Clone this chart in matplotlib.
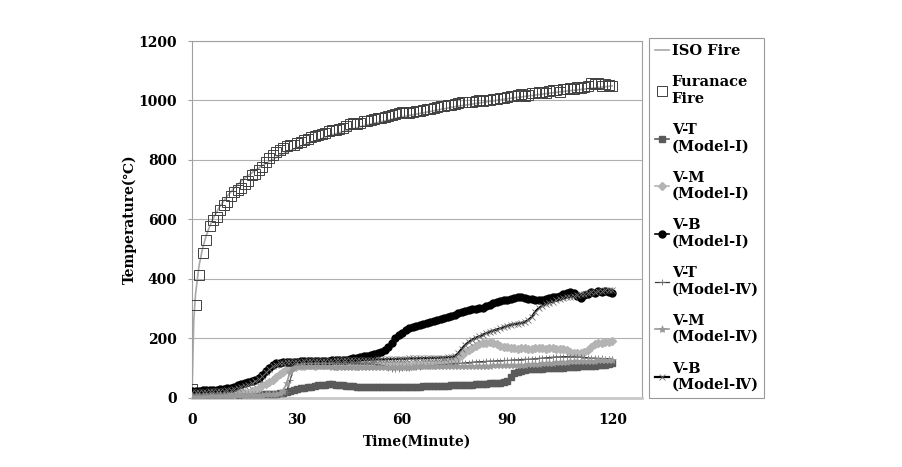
import matplotlib
matplotlib.use("Agg")
import matplotlib.pyplot as plt

plt.rcParams['font.family'] = ['DejaVu Serif', 'DejaVu Sans', 'Noto Sans CJK KR']
plt.rcParams['font.weight'] = 'bold'

# time in minutes, one reading per minute
minutes = list(range(121))

# standard fire curve, read at a few times
iso_time = [0, 0.5, 1, 2, 3, 4, 5, 6, 8, 10, 12, 15, 20, 25, 30, 40, 50, 60, 75, 90, 105, 120]
iso_temp = [20, 261, 349, 445, 502, 544, 576, 603, 645, 678, 705, 739, 781, 815, 842,
            885, 918, 945, 979, 1006, 1029, 1049]

furnace = [30, 313, 413, 487, 531, 578, 598, 608, 632, 648,
           660, 680, 692, 700, 706, 718, 728, 748, 752, 765,
           778, 792, 808, 818, 826, 834, 840, 846, 850, 852,
           856, 860, 866, 872, 876, 880, 884, 888, 892, 896,
           900, 902, 905, 908, 914, 920, 924, 922, 926, 930,
           932, 934, 938, 940, 942, 945, 948, 950, 954, 958,
           960, 962, 958, 962, 965, 966, 968, 970, 972, 975,
           978, 980, 982, 984, 986, 988, 990, 994, 996, 994,
           996, 998, 1000, 998, 1000, 1002, 1004, 1006, 1008, 1010,
           1012, 1014, 1016, 1020, 1022, 1014, 1020, 1024, 1026, 1028,
           1030, 1024, 1032, 1034, 1036, 1030, 1038, 1040, 1042, 1040,
           1044, 1042, 1046, 1050, 1058, 1056, 1060, 1048, 1054, 1052,
           1050]

vt_m1 = [10, 9, 9, 10, 10, 10, 11, 10, 10, 11,
         11, 11, 12, 11, 12, 12, 12, 13, 13, 13,
         13, 14, 14, 14, 15, 16, 18, 21, 25, 28,
         31, 33, 35, 36, 38, 40, 42, 43, 45, 46,
         46, 45, 44, 42, 41, 40, 39, 38, 37, 37,
         36, 36, 36, 36, 36, 36, 36, 37, 37, 37,
         37, 37, 38, 38, 38, 38, 39, 39, 39, 40,
         40, 40, 41, 41, 42, 42, 43, 43, 44, 44,
         45, 46, 46, 47, 48, 49, 50, 51, 52, 54,
         56, 72, 85, 88, 90, 93, 96, 97, 98, 98,
         99, 100, 100, 101, 101, 102, 102, 103, 104, 104,
         105, 106, 106, 107, 108, 109, 110, 111, 112, 114,
         116]

vm_m1 = [12, 12, 12, 13, 13, 13, 13, 14, 14, 14,
         15, 15, 15, 16, 16, 17, 18, 22, 28, 35,
         42, 48, 55, 62, 70, 80, 88, 96, 102, 106,
         108, 109, 109, 110, 110, 109, 110, 110, 111, 110,
         110, 109, 110, 110, 111, 110, 110, 109, 110, 110,
         111, 110, 110, 110, 111, 111, 110, 111, 111, 112,
         112, 111, 112, 112, 113, 112, 113, 113, 114, 114,
         115, 115, 116, 118, 120, 125, 135, 145, 155, 162,
         168, 174, 180, 184, 186, 187, 184, 180, 176, 173,
         170, 168, 167, 166, 168, 167, 166, 165, 167, 168,
         167, 166, 168, 167, 166, 166, 164, 160, 155, 152,
         150, 151, 154, 160, 172, 180, 184, 186, 188, 188,
         190]

vb_m1 = [25, 24, 25, 26, 26, 27, 28, 28, 29, 30,
         32, 35, 38, 42, 46, 50, 53, 57, 62, 67,
         78, 92, 102, 110, 116, 118, 120, 121, 122, 122,
         122, 123, 123, 123, 124, 124, 124, 125, 125, 125,
         126, 126, 127, 128, 129, 131, 134, 136, 138, 140,
         142, 145, 148, 152, 155, 160, 170, 185, 200, 212,
         220, 228, 235, 240, 242, 245, 248, 252, 255, 260,
         262, 266, 270, 272, 276, 280, 285, 290, 294, 296,
         298, 300, 302, 304, 308, 312, 318, 322, 325, 328,
         330, 334, 335, 338, 340, 336, 334, 332, 330, 328,
         329, 332, 335, 338, 340, 342, 348, 352, 356, 354,
         342, 336, 345, 350, 356, 352, 358, 355, 360, 356,
         354]

vt_m4 = [10, 10, 10, 10, 10, 11, 11, 11, 11, 11,
         11, 11, 12, 12, 12, 12, 12, 12, 13, 13,
         13, 13, 13, 14, 14, 14, 15, 20, 60, 100,
         112, 115, 116, 116, 116, 117, 117, 117, 117, 117,
         117, 117, 116, 116, 116, 116, 115, 115, 115, 114,
         114, 114, 113, 112, 110, 106, 100, 98, 98, 99,
         100, 101, 102, 103, 104, 105, 106, 107, 108, 109,
         110, 111, 112, 113, 114, 115, 116, 117, 118, 119,
         120, 121, 122, 122, 123, 124, 124, 125, 125, 126,
         126, 127, 128, 128, 129, 130, 130, 131, 132, 133,
         134, 135, 136, 137, 138, 138, 139, 139, 138, 138,
         137, 137, 136, 135, 134, 134, 133, 133, 132, 132,
         131]

vm_m4 = [8, 8, 8, 8, 9, 9, 9, 9, 9, 9,
         9, 10, 10, 10, 10, 10, 10, 11, 11, 11,
         11, 12, 12, 13, 14, 16, 22, 50, 88, 102,
         106, 107, 108, 108, 108, 107, 107, 106, 106, 106,
         105, 105, 105, 104, 104, 104, 104, 104, 104, 104,
         104, 104, 104, 104, 104, 104, 104, 104, 105, 105,
         105, 105, 105, 105, 106, 106, 106, 106, 106, 106,
         106, 106, 107, 107, 107, 107, 107, 108, 108, 108,
         108, 108, 109, 109, 109, 109, 110, 110, 110, 110,
         111, 111, 111, 112, 112, 112, 113, 113, 114, 115,
         116, 117, 118, 119, 120, 121, 122, 122, 123, 123,
         124, 124, 124, 125, 125, 125, 126, 126, 126, 126,
         126]

vb_m4 = [20, 20, 20, 21, 21, 22, 22, 23, 24, 25,
         26, 28, 30, 33, 36, 40, 44, 50, 57, 65,
         75, 86, 97, 106, 112, 116, 118, 120, 121, 122,
         122, 122, 123, 123, 123, 124, 124, 124, 125, 125,
         125, 126, 126, 126, 127, 127, 127, 128, 128, 128,
         129, 129, 129, 130, 130, 130, 131, 131, 131, 132,
         132, 132, 133, 133, 133, 134, 134, 134, 135, 135,
         135, 136, 136, 137, 138, 140, 150, 165, 178, 188,
         196, 202, 207, 212, 218, 222, 226, 230, 234, 238,
         242, 246, 248, 250, 252, 255, 262, 272, 290, 302,
         310, 316, 320, 324, 328, 332, 335, 338, 340, 342,
         345, 348, 350, 352, 355, 357, 359, 360, 362, 363,
         364]

labels = ['ISO Fire', 'Furanace\nFire', 'V-T\n(Model-Ⅰ)', 'V-M\n(Model-Ⅰ)', 'V-B\n(Model-Ⅰ)',
          'V-T\n(Model-Ⅳ)', 'V-M\n(Model-Ⅳ)', 'V-B\n(Model-Ⅳ)']

fig = plt.figure(figsize=(9.02, 4.67), dpi=100)
ax = fig.add_axes([0.2129, 0.1478, 0.4989, 0.7644])

ax.plot(iso_time, iso_temp, color='#a8a8a8', lw=1.2, label=labels[0], zorder=2)
ax.plot(minutes, furnace, ls='none', marker='s', ms=6.5, mfc='none', mec='#404040', mew=0.7,
        label=labels[1], zorder=3)
ax.plot(minutes, vt_m1, color='#5a5a5a', lw=1.2, marker='s', ms=4.5, label=labels[2], zorder=3)
ax.plot(minutes, vm_m1, color='#b4b4b4', lw=1.2, marker='D', ms=4, label=labels[3], zorder=3)
ax.plot(minutes, vb_m1, color='black', lw=1.2, marker='o', ms=5, label=labels[4], zorder=3)
ax.plot(minutes, vt_m4, color='#3c3c3c', lw=0.9, marker='+', ms=5, mew=0.6, mec='#707070',
        label=labels[5], zorder=3)
ax.plot(minutes, vm_m4, color='#9a9a9a', lw=1.2, marker='*', ms=6, mew=0.4, label=labels[6], zorder=3)
ax.plot(minutes, vb_m4, color='black', lw=1.6, marker='x', ms=4.5, mew=0.6, mec='#707070',
        label=labels[7], zorder=4)

ax.set_xlim(0, 128.5)
ax.set_ylim(0, 1200)
ax.set_xticks([0, 30, 60, 90, 120])
ax.set_yticks(range(0, 1201, 200))
ax.grid(axis='y', color='#b0b0b0', lw=0.8)
ax.set_axisbelow(True)
for s in ax.spines.values():
    s.set_color('#a0a0a0')
    s.set_linewidth(0.8)
ax.spines['bottom'].set_color('#c8c8c8')
ax.spines['bottom'].set_linewidth(2)
ax.tick_params(axis='y', length=3, color='#a0a0a0', labelsize=10, pad=8)
ax.tick_params(axis='x', length=0, labelsize=10, pad=11)
for lab in ax.get_xticklabels() + ax.get_yticklabels():
    lab.set_fontweight('bold')

ax.set_xlabel('Time(Minute)', fontsize=10, fontweight='bold', labelpad=5)
ax.set_ylabel('Temperature(℃)', fontsize=10, fontweight='bold', labelpad=1)

leg = fig.legend(loc='upper left', bbox_to_anchor=(649 / 902, 1 - 38 / 467),
                 frameon=True, fancybox=False, edgecolor='#808080', handlelength=1.0,
                 handletextpad=0.15, borderpad=0.4, borderaxespad=0, labelspacing=1.2,
                 prop={'weight': 'bold', 'size': 10.5})
leg.get_frame().set_linewidth(0.8)

fig.savefig('out.png', dpi=100)
